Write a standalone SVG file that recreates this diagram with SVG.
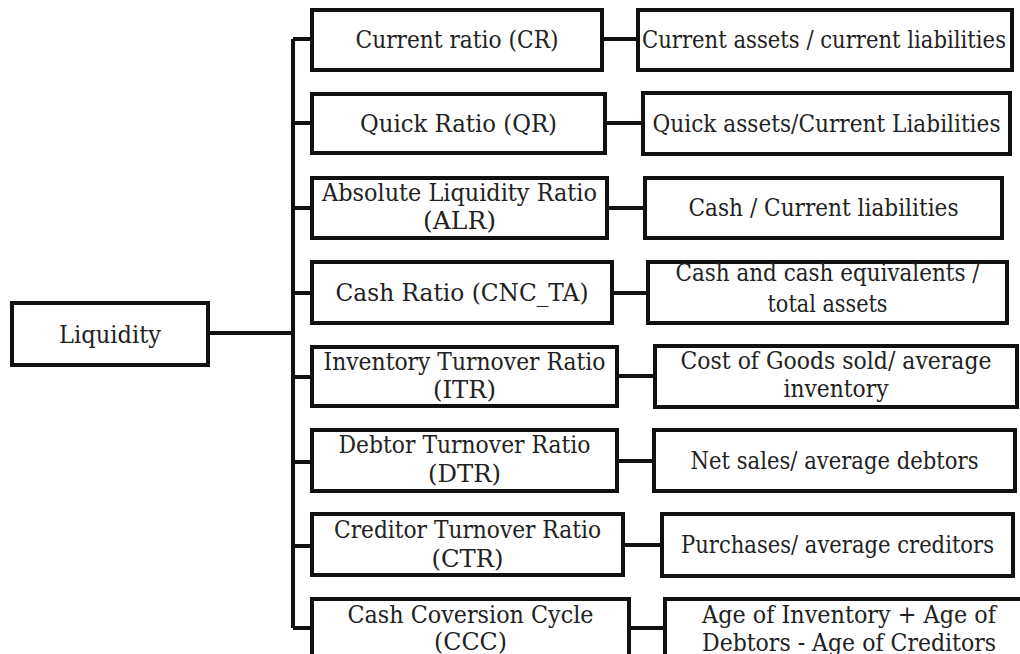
<svg xmlns="http://www.w3.org/2000/svg" width="1020" height="654" viewBox="0 0 1020 654">
<style>
.box{fill:#fff;stroke:#111;stroke-width:4}
.ln{fill:none;stroke:#111;stroke-width:4}
text{font-family:'DejaVu Serif','Liberation Serif',serif;font-size:25px;fill:#222;text-anchor:middle}
</style>
<rect width="1020" height="654" fill="#fff"/>
<g id="connectors">
<path class="ln" d="M208 333H293M293 39V628M293 39H312M293 123H312M293 208H312M293 293H312M293 377H312M293 462H312M293 546H312M293 628H312"/>
<path class="ln" d="M602 39H638M605 123H643M607 208H645M612 293H648M617 376H655M617 461H654M623 545H662M629 628H665"/>
</g>
<g id="liquidity"><rect class="box" x="12" y="303" width="196" height="62"/><text x="110" y="343" textLength="102" lengthAdjust="spacingAndGlyphs">Liquidity</text></g>
<g id="cr"><rect class="box" x="312" y="10" width="290" height="60"/><text x="457" y="48" textLength="203" lengthAdjust="spacingAndGlyphs">Current ratio (CR)</text></g>
<g id="qr"><rect class="box" x="312" y="94" width="293" height="59"/><text x="458.5" y="132" textLength="197" lengthAdjust="spacingAndGlyphs">Quick Ratio (QR)</text></g>
<g id="alr"><rect class="box" x="312" y="178" width="295" height="60"/><text x="459.5" y="201" textLength="275" lengthAdjust="spacingAndGlyphs">Absolute Liquidity Ratio</text><text x="459.5" y="229" textLength="73" lengthAdjust="spacingAndGlyphs">(ALR)</text></g>
<g id="cnc"><rect class="box" x="312" y="262" width="300" height="61"/><text x="462" y="301" textLength="253" lengthAdjust="spacingAndGlyphs">Cash Ratio (CNC_TA)</text></g>
<g id="itr"><rect class="box" x="312" y="347" width="305" height="59"/><text x="464.5" y="370" textLength="282" lengthAdjust="spacingAndGlyphs">Inventory Turnover Ratio</text><text x="464.5" y="398" textLength="63" lengthAdjust="spacingAndGlyphs">(ITR)</text></g>
<g id="dtr"><rect class="box" x="312" y="430" width="305" height="61"/><text x="464.5" y="453" textLength="252" lengthAdjust="spacingAndGlyphs">Debtor Turnover Ratio</text><text x="464.5" y="482" textLength="73" lengthAdjust="spacingAndGlyphs">(DTR)</text></g>
<g id="ctr"><rect class="box" x="312" y="514" width="311" height="61"/><text x="467.5" y="538" textLength="267" lengthAdjust="spacingAndGlyphs">Creditor Turnover Ratio</text><text x="467.5" y="567" textLength="72" lengthAdjust="spacingAndGlyphs">(CTR)</text></g>
<g id="ccc"><rect class="box" x="312" y="599" width="317" height="80"/><text x="470.5" y="623" textLength="246" lengthAdjust="spacingAndGlyphs">Cash Coversion Cycle</text><text x="470.5" y="650" textLength="73" lengthAdjust="spacingAndGlyphs">(CCC)</text></g>
<g id="f-cr"><rect class="box" x="638" y="10" width="374" height="60"/><text x="824" y="48" textLength="364" lengthAdjust="spacingAndGlyphs">Current assets / current liabilities</text></g>
<g id="f-qr"><rect class="box" x="643" y="93" width="367" height="61"/><text x="826.5" y="132" textLength="348" lengthAdjust="spacingAndGlyphs">Quick assets/Current Liabilities</text></g>
<g id="f-alr"><rect class="box" x="645" y="178" width="357" height="60"/><text x="823.5" y="216" textLength="270" lengthAdjust="spacingAndGlyphs">Cash / Current liabilities</text></g>
<g id="f-cnc"><rect class="box" x="648" y="262" width="359" height="61"/><text x="827.5" y="281" textLength="304" lengthAdjust="spacingAndGlyphs">Cash and cash equivalents /</text><text x="827.5" y="312" textLength="120" lengthAdjust="spacingAndGlyphs">total assets</text></g>
<g id="f-itr"><rect class="box" x="655" y="346" width="362" height="61"/><text x="836" y="369" textLength="311" lengthAdjust="spacingAndGlyphs">Cost of Goods sold/ average</text><text x="836" y="397" textLength="105" lengthAdjust="spacingAndGlyphs">inventory</text></g>
<g id="f-dtr"><rect class="box" x="654" y="430" width="361" height="61"/><text x="834.5" y="469" textLength="288" lengthAdjust="spacingAndGlyphs">Net sales/ average debtors</text></g>
<g id="f-ctr"><rect class="box" x="662" y="514" width="351" height="62"/><text x="837.5" y="553" textLength="313" lengthAdjust="spacingAndGlyphs">Purchases/ average creditors</text></g>
<g id="f-ccc"><rect class="box" x="665" y="599" width="380" height="80"/><text x="849" y="623" textLength="294" lengthAdjust="spacingAndGlyphs">Age of Inventory + Age of</text><text x="849" y="651" textLength="294" lengthAdjust="spacingAndGlyphs">Debtors - Age of Creditors</text></g>
</svg>
